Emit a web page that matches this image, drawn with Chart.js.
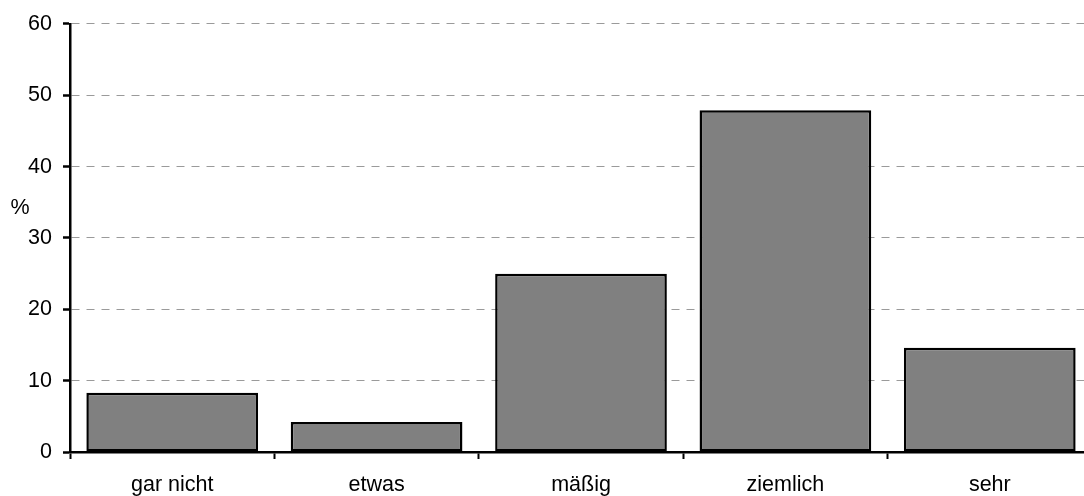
<!DOCTYPE html>
<html>
<head>
<meta charset="utf-8">
<script src="https://cdn.jsdelivr.net/npm/chart.js@4.4.1/dist/chart.umd.min.js"></script>
<style>
  html, body { margin: 0; padding: 0; background: #fff; overflow: hidden; }
  #wrap { width: 1084px; height: 496px; overflow: hidden; }
  canvas { display: block; }
</style>
</head>
<body>
<div id="wrap"><canvas id="c" width="1092" height="496"></canvas></div>
<script>
// Antworthäufigkeiten in Prozent
const categories = ['gar nicht', 'etwas', 'mäßig', 'ziemlich', 'sehr'];
const percentValues = [8.3, 4.2, 25.0, 47.9, 14.6];
const yTickMin = 0;
const yTickMax = 60;
const yTickStep = 10;
const yAxisTitle = '%';

const FONT = { family: '"Liberation Sans", Arial, sans-serif', size: 21.5 };

// Draws the horizontal unit label to the left of the value axis
const unitLabel = {
  id: 'unitLabel',
  afterDraw(chart) {
    const ctx = chart.ctx;
    const y = chart.scales.y;
    ctx.save();
    ctx.font = FONT.size + 'px ' + FONT.family;
    ctx.fillStyle = '#000';
    ctx.textAlign = 'center';
    ctx.textBaseline = 'middle';
    ctx.fillText(yAxisTitle, 20, (y.top + y.bottom) / 2 - 30);
    ctx.restore();
  }
};

new Chart(document.getElementById('c'), {
  type: 'bar',
  data: {
    labels: categories,
    datasets: [{
      data: percentValues,
      backgroundColor: '#808080',
      borderColor: '#000',
      borderWidth: 2.5,
      borderSkipped: false,
      barPercentage: 0.84,
      categoryPercentage: 1.0
    }]
  },
  options: {
    responsive: false,
    animation: false,
    devicePixelRatio: 1,
    layout: { padding: { top: 23, right: 0, bottom: 0, left: 0 } },
    plugins: { legend: { display: false }, tooltip: { enabled: false } },
    scales: {
      x: {
        afterFit(s) { s.height = 44; },
        grid: {
          display: true,
          drawOnChartArea: false,
          drawTicks: true,
          tickLength: 7,
          tickColor: '#000',
          tickWidth: 2,
          offset: true
        },
        border: { display: true, color: '#000', width: 2.5 },
        ticks: { color: '#000', font: FONT, padding: 13, maxRotation: 0 }
      },
      y: {
        min: yTickMin,
        max: yTickMax,
        afterFit(s) { s.width = 70; },
        grid: {
          color: '#9a9a9a',
          lineWidth: 1,
          drawTicks: true,
          tickLength: 7,
          tickColor: '#000',
          tickWidth: 2.5,
          tickBorderDash: []
        },
        border: { display: true, color: '#000', width: 2.5, dash: [8, 7] },
        ticks: { stepSize: yTickStep, color: '#000', font: FONT, padding: 11 }
      }
    }
  },
  plugins: [unitLabel]
});
</script>
</body>
</html>
